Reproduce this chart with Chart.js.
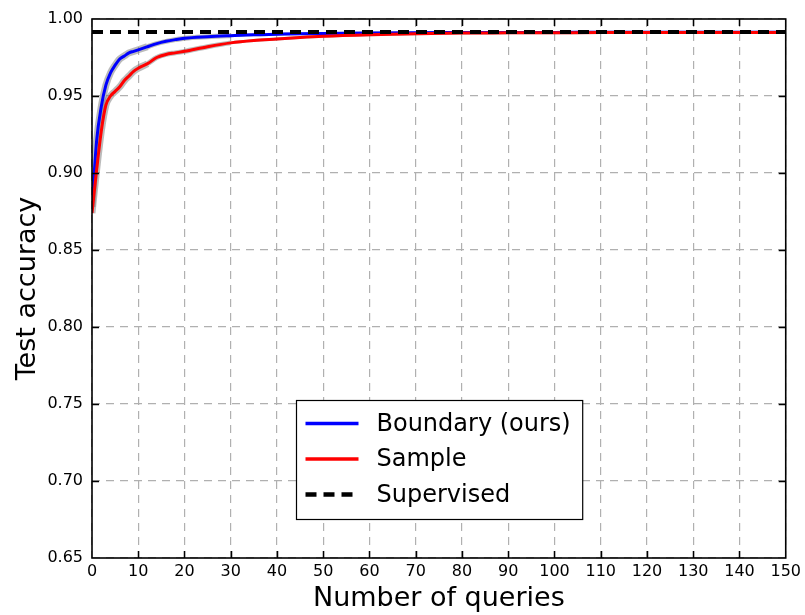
<!DOCTYPE html>
<html>
<head>
<meta charset="utf-8">
<script src="https://cdn.jsdelivr.net/npm/chart.js@4"></script>
<style>
html,body{margin:0;padding:0;background:#fff;}
#wrap{width:805px;height:615px;position:relative;}
</style>
</head>
<body>
<div id="wrap"><canvas id="c" width="805" height="615"></canvas></div>
<script>
const queries = [0,1,2,3,4,5,6,7,8,9,10,12,14,16,18,20,25,30,35,40,45,50,60,70,80,90,100,110,120,130,140,150];
const boundaryAcc = [0.878,0.921,0.943,0.957,0.965,0.970,0.974,0.976,0.978,0.979,0.980,0.982,0.984,0.9855,0.9866,0.9875,0.9885,0.9892,0.9898,0.9901,0.9904,0.9906,0.9909,0.9911,0.9912,0.9913,0.9913,0.9914,0.9914,0.9914,0.9914,0.9914];
const sampleAcc = [0.874,0.902,0.927,0.944,0.950,0.953,0.956,0.960,0.963,0.966,0.968,0.971,0.975,0.977,0.978,0.979,0.982,0.9845,0.986,0.987,0.988,0.9888,0.9898,0.9905,0.9909,0.9910,0.9911,0.9912,0.9912,0.9912,0.9912,0.9912];
const supervisedX = [0,150];
const supervisedAcc = [0.9915,0.9915];
const yTicks = [0.65,0.70,0.75,0.80,0.85,0.90,0.95,1.00];
const xTicks = [0,10,20,30,40,50,60,70,80,90,100,110,120,130,140,150];
const seriesLabels = ['Boundary (ours)','Sample','Supervised'];

const pts = (xs, ys) => xs.map((x,i)=>({x:x,y:ys[i]}));
const FONT = "'DejaVu Sans', sans-serif";

const frameTicks = {
  id:'frameTicks',
  afterDatasetsDraw(chart){
    const {ctx, chartArea:a, scales:{x,y}} = chart;
    ctx.save();
    ctx.strokeStyle='#000';
    ctx.lineWidth=1.5;
    ctx.beginPath();
    xTicks.forEach(v=>{
      const px=Math.round(x.getPixelForValue(v))+0.5;
      if (v===xTicks[0]||v===xTicks[xTicks.length-1]) return;
      ctx.moveTo(px,a.bottom); ctx.lineTo(px,a.bottom-7);
      ctx.moveTo(px,a.top); ctx.lineTo(px,a.top+7);
    });
    yTicks.forEach(v=>{
      const py=Math.round(y.getPixelForValue(v))+0.5;
      if (v===yTicks[0]||v===yTicks[yTicks.length-1]) return;
      ctx.moveTo(a.left,py); ctx.lineTo(a.left+7,py);
      ctx.moveTo(a.right,py); ctx.lineTo(a.right-7,py);
    });
    ctx.stroke();
    ctx.lineWidth=1.6;
    ctx.strokeRect(a.left,a.top,a.right-a.left,a.bottom-a.top);

    // legend (lower center)
    ctx.font = "24px " + FONT;
    const items = chart.data.datasets.filter(d=>seriesLabels.includes(d.label))
      .sort((p,q)=>seriesLabels.indexOf(p.label)-seriesLabels.indexOf(q.label));
    const textW = Math.max(...items.map(d=>ctx.measureText(d.label).width));
    const padL=9, lineL=53, gap=18, padR=12, rowH=35.5, padT=23, padB=25;
    const w = padL+lineL+gap+textW+padR;
    const h = padT+padB+rowH*(items.length-1);
    const cx = (a.left+a.right)/2;
    const bx = Math.round(cx - w/2)+0.5;
    const by = Math.round(a.bottom - 39 - h)+0.5;
    ctx.fillStyle='#fff';
    ctx.fillRect(bx,by,w,h);
    ctx.lineWidth=1.2;
    ctx.strokeStyle='#000';
    ctx.strokeRect(bx,by,w,h);
    items.forEach((d,i)=>{
      const ry = by+padT+rowH*i;
      ctx.beginPath();
      ctx.strokeStyle=d.borderColor;
      ctx.lineWidth=d.borderWidth+0.5;
      ctx.setLineDash(d.borderDash||[]);
      ctx.moveTo(bx+padL,ry); ctx.lineTo(bx+padL+lineL,ry);
      ctx.stroke();
      ctx.setLineDash([]);
      ctx.fillStyle='#000';
      ctx.textBaseline='middle';
      ctx.textAlign='left';
      ctx.fillText(d.label,bx+padL+lineL+gap,ry+1);
    });
    ctx.restore();
  }
};

const bandSegment = {borderWidth: c => (c.p0.parsed.x < 12 ? 7 : (c.p0.parsed.x < 30 ? 5 : 3))};

new Chart(document.getElementById('c'),{
  type:'line',
  data:{
    datasets:[
      {label:'Supervised',data:pts(supervisedX,supervisedAcc),borderColor:'#000',borderWidth:4,borderDash:[11,7],pointRadius:0,tension:0},
      {label:'Sample',data:pts(queries,sampleAcc),borderColor:'#ff0000',borderWidth:3,pointRadius:0,cubicInterpolationMode:'monotone'},
      {label:'Boundary (ours)',data:pts(queries,boundaryAcc),borderColor:'#0000ff',borderWidth:3,pointRadius:0,cubicInterpolationMode:'monotone'},
      {label:'_sampleBand',data:pts(queries,sampleAcc),borderColor:'rgba(120,120,120,0.5)',borderWidth:7,pointRadius:0,cubicInterpolationMode:'monotone',segment:bandSegment},
      {label:'_boundaryBand',data:pts(queries,boundaryAcc),borderColor:'rgba(120,120,120,0.5)',borderWidth:7,pointRadius:0,cubicInterpolationMode:'monotone',segment:bandSegment}
    ]
  },
  options:{
    responsive:false,
    animation:false,
    devicePixelRatio:1,
    layout:{padding:{top:19,right:19,left:0,bottom:0}},
    plugins:{legend:{display:false},tooltip:{enabled:false}},
    scales:{
      x:{
        type:'linear',min:0,max:150,
        afterBuildTicks(s){s.ticks=xTicks.map(v=>({value:v}));},
        afterFit(s){s.height=57;},
        ticks:{color:'#000',padding:4,font:{family:FONT,size:16},maxRotation:0,callback:v=>String(v)},
        grid:{color:'#b0b0b0',lineWidth:1.2,drawTicks:false},
        border:{display:false,dash:[8,6]},
        title:{display:true,text:'Number of queries',color:'#000',font:{family:FONT,size:27},padding:{top:0,bottom:0}}
      },
      y:{
        type:'linear',min:0.65,max:1.0,
        afterBuildTicks(s){s.ticks=yTicks.map(v=>({value:v}));},
        afterFit(s){s.width=92;},
        ticks:{color:'#000',padding:9,font:{family:FONT,size:16},callback:v=>Number(v).toFixed(2)},
        grid:{color:'#b0b0b0',lineWidth:1.2,drawTicks:false},
        border:{display:false,dash:[8,6]},
        title:{display:true,text:'Test accuracy',color:'#000',font:{family:FONT,size:27},padding:{top:12,bottom:0}}
      }
    }
  },
  plugins:[frameTicks]
});
</script>
</body>
</html>
